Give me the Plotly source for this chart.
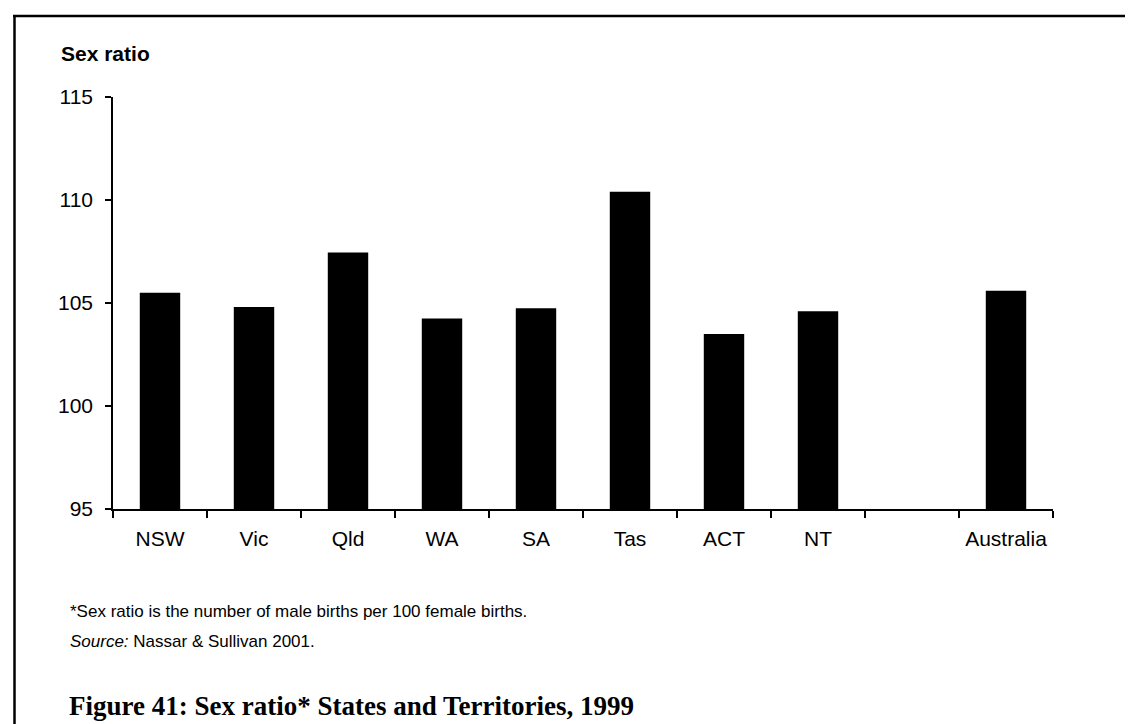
import plotly.graph_objects as go

categories = ["NSW", "Vic", "Qld", "WA", "SA", "Tas", "ACT", "NT", " ", "Australia"]
sex_ratio = [105.5, 104.8, 107.45, 104.25, 104.75, 110.4, 103.5, 104.6, None, 105.6]
y_ticks = [95, 100, 105, 110, 115]

W, H = 1133, 724
L, R, T, B = 105, 88, 89, 223
PW, PH = W - L - R, H - T - B


def px(x):
    return (x - L) / PW


def py(y):
    return (H - B - y) / PH


fig = go.Figure(
    go.Bar(
        x=categories,
        y=sex_ratio,
        marker=dict(color="black", line=dict(width=0)),
        width=0.43,
    )
)

fig.update_layout(
    width=W,
    height=H,
    margin=dict(l=L, r=R, t=T, b=B, pad=0),
    paper_bgcolor="white",
    plot_bgcolor="white",
    showlegend=False,
    font=dict(family="Liberation Sans, Arial, sans-serif", size=21, color="black"),
    xaxis=dict(
        type="category",
        tickson="boundaries",
        ticks="outside",
        ticklen=7,
        tickwidth=1.5,
        tickcolor="black",
        showline=True,
        linecolor="black",
        linewidth=1.5,
        showgrid=False,
        zeroline=False,
        ticklabelstandoff=10,
        tickfont=dict(size=21),
    ),
    yaxis=dict(
        range=[95, 115],
        tickvals=y_ticks,
        ticks="outside",
        ticklen=6,
        tickwidth=1.5,
        tickcolor="black",
        showline=True,
        linecolor="black",
        linewidth=1.5,
        showgrid=False,
        zeroline=False,
        ticklabelstandoff=8,
        tickfont=dict(size=21),
    ),
)

annotations = [
    dict(text="<b>Sex ratio</b>", x=px(51), y=py(46), font=dict(size=21)),
    dict(text="*Sex ratio is the number of male births per 100 female births.",
         x=px(60), y=py(603), font=dict(size=17)),
    dict(text="<i>Source:</i> Nassar & Sullivan 2001.", x=px(60), y=py(633), font=dict(size=17)),
    dict(text="<b>Figure 41: Sex ratio* States and Territories, 1999</b>", x=px(59), y=py(698),
         font=dict(size=27, family="Liberation Serif, Times New Roman, serif")),
]
for a in annotations:
    fig.add_annotation(xref="paper", yref="paper", xanchor="left", yanchor="middle",
                       showarrow=False, **a)

# page frame (top and left edges)
fig.add_shape(type="line", xref="paper", yref="paper", x0=px(5), x1=px(1133), y0=py(8), y1=py(8),
              line=dict(color="black", width=2.5))
fig.add_shape(type="line", xref="paper", yref="paper", x0=px(6.5), x1=px(6.5), y0=py(7), y1=py(724),
              line=dict(color="black", width=2.5))

fig.write_html("out.html")
